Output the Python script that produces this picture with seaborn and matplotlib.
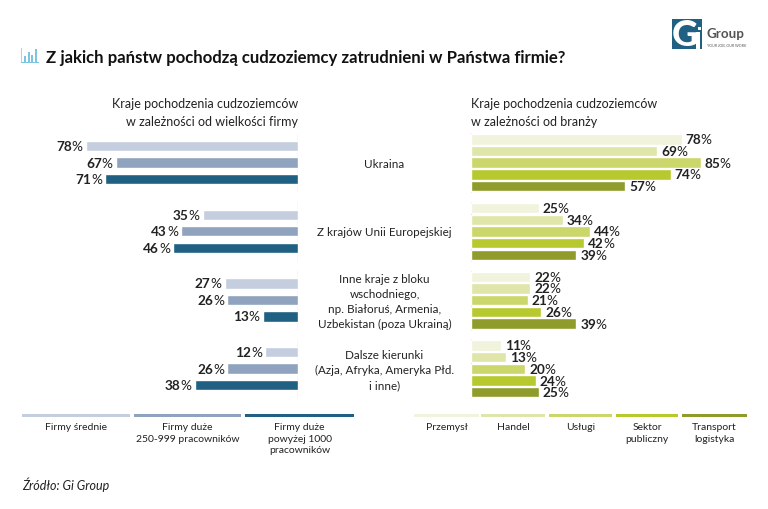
import pandas as pd
import numpy as np
import matplotlib
matplotlib.use('Agg')
import matplotlib.pyplot as plt
import matplotlib.transforms as mtrans
from matplotlib.patches import Rectangle
import seaborn as sns

# Data
kraje = ['Ukraina', 'Z krajów Unii Europejskiej',
         'Inne kraje z bloku\nwschodniego,\nnp. Białoruś, Armenia,\nUzbekistan (poza Ukrainą)',
         'Dalsze kierunki\n(Azja, Afryka, Ameryka Płd.\ni inne)']

wielkosc = ['Firmy średnie', 'Firmy duże\n250-999 pracowników', 'Firmy duże\npowyżej 1000\npracowników']
firmy_srednie = [78, 35, 27, 12]
firmy_250_999 = [67, 43, 26, 26]
firmy_1000 = [71, 46, 13, 38]
kolory_wielkosc = ['#C5CEDE', '#8FA3BE', '#1F6083']

branze = ['Przemysł', 'Handel', 'Usługi', 'Sektor\npubliczny', 'Transport\nlogistyka']
przemysl = [78, 25, 22, 11]
handel = [69, 34, 22, 13]
uslugi = [85, 44, 21, 20]
sektor_publiczny = [74, 42, 26, 24]
transport = [57, 39, 39, 25]
kolory_branze = ['#F1F3DC', '#E0E6A9', '#CBD76A', '#B7C92F', '#8F9C2B']

tytul = 'Z jakich państw pochodzą cudzoziemcy zatrudnieni w Państwa firmie?'
podtytul_l = 'Kraje pochodzenia cudzoziemców\nw zależności od wielkości firmy'
podtytul_p = 'Kraje pochodzenia cudzoziemców\nw zależności od branży'
zrodlo = 'Źródło: Gi Group'

W, H = 768, 510
TXT = '#222222'

sns.set_theme(style='white')
plt.rcParams['font.family'] = ['Lato', 'DejaVu Sans']

df_l = pd.DataFrame({'kraj': np.repeat(kraje, 3),
                     'grupa': wielkosc * 4,
                     'wartosc': np.array([firmy_srednie, firmy_250_999, firmy_1000]).T.ravel()})
df_p = pd.DataFrame({'kraj': np.repeat(kraje, 5),
                     'grupa': branze * 4,
                     'wartosc': np.array([przemysl, handel, uslugi, sektor_publiczny, transport]).T.ravel()})

fig = plt.figure(figsize=(W / 100, H / 100), dpi=100, facecolor='white')


def px_axes(x0, y0, x1, y1):
    return fig.add_axes([x0 / W, 1 - y1 / H, (x1 - x0) / W, (y1 - y0) / H])


def ftext(x, y, s, **kw):
    kw.setdefault('color', TXT)
    kw.setdefault('va', 'center')
    return fig.text(x / W, 1 - y / H, s, **kw)


def frect(x, y, w, h, color):
    fig.add_artist(Rectangle((x / W, 1 - (y + h) / H), w / W, h / H, color=color,
                             lw=0, transform=fig.transFigure))


# Both panels share the same category band: 68.7 px per group
ax_l = px_axes(22, 129.2, 298, 404)
ax_p = px_axes(471, 129.4, 740, 404.2)

sns.barplot(data=df_l, y='kraj', x='wartosc', hue='grupa', hue_order=wielkosc, palette=kolory_wielkosc,
            order=kraje, width=0.72, gap=0.37, saturation=1, legend=False, ax=ax_l)
sns.barplot(data=df_p, y='kraj', x='wartosc', hue='grupa', hue_order=branze, palette=kolory_branze,
            order=kraje, width=0.85, gap=0.1, saturation=1, legend=False, ax=ax_p)

ax_l.set_xlim(276 / 2.72, 0)
ax_p.set_xlim(0, 269 / 2.7)

for ax in (ax_l, ax_p):
    ax.vlines([0] * 4, np.arange(4) - 0.43, np.arange(4) + 0.43, color='#D9D9D9', lw=1, zorder=0)
    ax.set_ylim(3.5, -0.5)
    ax.set_xlabel('')
    ax.set_ylabel('')
    ax.set_xticks([])
    ax.set_yticks([])
    ax.patch.set_alpha(0)
    sns.despine(ax=ax, left=True, bottom=True)


# Bold number with a lighter percent sign, as in the reference
def value_labels(ax, kierunek):
    for cont in ax.containers:
        for bar, v in zip(cont.patches, cont.datavalues):
            y = bar.get_y() + bar.get_height() / 2
            if kierunek < 0:
                ax.annotate('%', (v, y), xytext=(-3, 0), textcoords='offset pixels', ha='right', va='center',
                            fontsize=9.8, color=TXT, annotation_clip=False)
                ax.annotate(f'{v:.0f}', (v, y), xytext=(-14, 0), textcoords='offset pixels', ha='right',
                            va='center', fontsize=9.8, fontweight='bold', color=TXT, annotation_clip=False)
            else:
                ax.annotate(f'{v:.0f}', (v, y), xytext=(4, 0), textcoords='offset pixels', ha='left', va='center',
                            fontsize=9.8, fontweight='bold', color=TXT, annotation_clip=False)
                ax.annotate('%', (v, y), xytext=(19, 0), textcoords='offset pixels', ha='left', va='center',
                            fontsize=9.8, color=TXT, annotation_clip=False)


value_labels(ax_l, -1)
value_labels(ax_p, 1)

# Category names sit between the panels
trans = mtrans.blended_transform_factory(fig.transFigure, ax_l.transData)
for i, k in enumerate(kraje):
    fig.text(384.5 / W, i + 0.01, k, transform=trans, ha='center', va='center', fontsize=8.4,
             color=TXT, linespacing=1.45)

# Title and icon
ftext(46, 57.5, tytul, fontsize=12.05, fontweight='bold', color='#111111')
for x, h in zip([24, 27.5, 31, 34.5], [6, 10, 7, 13]):
    frect(x, 63 - h, 2, h, '#7CC4E0')
frect(21, 63, 18, 1, '#7CC4E0')
frect(21, 49, 1, 14, '#A5D5E8')

# Panel headings
ftext(298, 112.5, podtytul_l, fontsize=9, ha='right', linespacing=1.6, multialignment='right')
ftext(471, 112.5, podtytul_p, fontsize=9, ha='left', linespacing=1.6)

# Legends: coloured strip with the label below
leg_l = [(22, 130), (134, 241), (245, 354)]
for (x0, x1), kol, lab in zip(leg_l, kolory_wielkosc, wielkosc):
    frect(x0, 415, x1 - x0, 3, kol)
    ftext((x0 + x1) / 2, 423.5, lab, fontsize=7.5, ha='center', va='top', linespacing=1.3)
leg_p = [(414, 479), (481, 545), (549, 612), (616, 678), (682, 747)]
for (x0, x1), kol, lab in zip(leg_p, kolory_branze, branze):
    frect(x0, 415, x1 - x0, 3, kol)
    ftext((x0 + x1) / 2, 423.5, lab, fontsize=7.5, ha='center', va='top', linespacing=1.3)

ftext(22, 484.5, zrodlo, fontsize=9, style='italic')

# Logo
frect(672, 20, 30, 30, '#1F6083')
ftext(685, 35, 'G', fontsize=26, fontweight='black', color='white', ha='center')
frect(696, 33, 3.5, 17, 'white')
frect(698, 28, 3, 3, 'white')
ftext(706.5, 34, 'Group', fontsize=9.6, color='#555555', ha='left', fontweight='bold')
ftext(707, 45, 'YOUR JOB, OUR WORK', fontsize=2.6, color='#555555', ha='left')

fig.savefig('out.png', dpi=100)
